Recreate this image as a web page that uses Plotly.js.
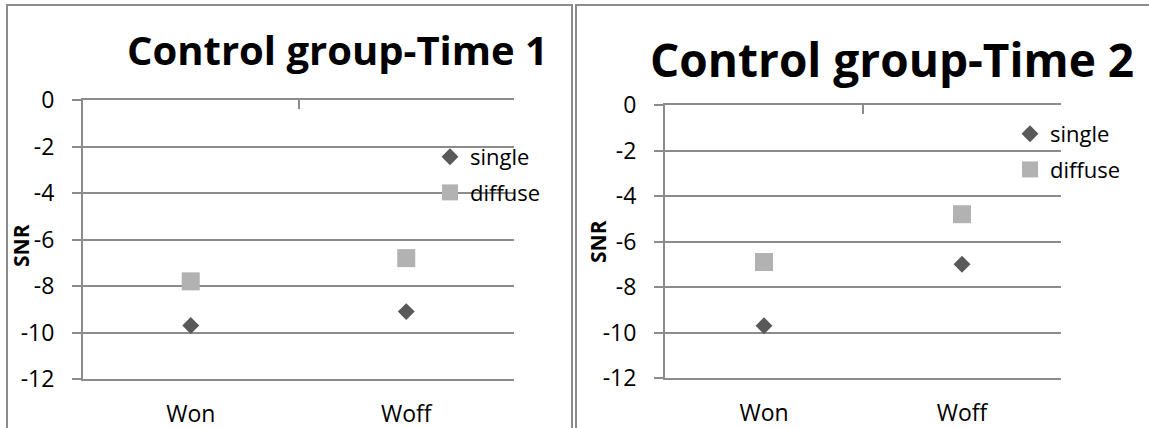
<!DOCTYPE html>
<html>
<head>
<meta charset="utf-8">
<script src="https://cdn.plot.ly/plotly-3.0.1.min.js"></script>
<style>
html,body{margin:0;padding:0;background:#fff;}
#chart{width:1149px;height:428px;}
</style>
</head>
<body>
<div id="chart"></div>
<script>
// ---- data ----
const categories = ["Won", "Woff"];
const seriesNames = ["single", "diffuse"];
const time1Single = [-9.7, -9.1];
const time1Diffuse = [-7.8, -6.8];
const time2Single = [-9.7, -7.0];
const time2Diffuse = [-6.9, -4.8];
const panelTitles = ["Control group-Time 1", "Control group-Time 2"];
const yTickVals = [0, -2, -4, -6, -8, -10, -12];
const yAxisLabel = "SNR";

const W = 1149, H = 428;
const px = x => x / W;
const py = y => 1 - y / H;

const FONT = "Open Sans, Liberation Sans, sans-serif";
const darkGray = "#595959";
const lightGray = "#b2b2b2";
const lineGray = "#8c8c8c";

function trace(name, x, y, xa, ya, sym, color, size, legend, group) {
  return {
    type: "scatter", mode: "markers", name: name, x: x, y: y,
    xaxis: xa, yaxis: ya, legend: legend, legendgroup: group,
    marker: {symbol: sym, color: color, size: size, line: {width: 0}},
    hoverinfo: "x+y"
  };
}

const data = [
  trace(seriesNames[0], categories, time1Single, "x", "y", "diamond", darkGray, 13, "legend", "a"),
  trace(seriesNames[1], categories, time1Diffuse, "x", "y", "square", lightGray, 18, "legend", "b"),
  trace(seriesNames[0], categories, time2Single, "x2", "y2", "diamond", darkGray, 13, "legend2", "a"),
  trace(seriesNames[1], categories, time2Diffuse, "x2", "y2", "square", lightGray, 18, "legend2", "b"),
  // invisible traces that carry the top (value-axis crossing) category axes
  {type: "scatter", x: categories, y: [null, null], xaxis: "x3", yaxis: "y", showlegend: false, hoverinfo: "skip"},
  {type: "scatter", x: categories, y: [null, null], xaxis: "x4", yaxis: "y2", showlegend: false, hoverinfo: "skip"}
];

function xaxisCat(domain, anchor) {
  return {
    domain: domain, anchor: anchor, type: "category", range: [-0.5, 1.5],
    showgrid: false, zeroline: false, showline: true, linecolor: lineGray, linewidth: 2,
    ticks: "", tickfont: {family: FONT, size: 23, color: "#000"},
    ticklabelstandoff: 13, fixedrange: true
  };
}
function xaxisTop(domain, overlay, anchor) {
  return {
    domain: domain, overlaying: overlay, anchor: anchor, side: "top", type: "category",
    range: [-0.5, 1.5], tickmode: "array", tickvals: [-0.5, 0.5, 1.499],
    ticks: "inside", ticklen: 9, tickcolor: lineGray, tickwidth: 2,
    showticklabels: false, showgrid: false, zeroline: false,
    showline: true, linecolor: lineGray, linewidth: 2, fixedrange: true
  };
}
function yaxisNum(domain, anchor) {
  return {
    domain: domain, anchor: anchor, range: [-12, 0], tickmode: "array",
    tickvals: yTickVals, ticktext: yTickVals.map(String),
    showgrid: true, gridcolor: lineGray, gridwidth: 2,
    zeroline: false, showline: true, linecolor: lineGray, linewidth: 2,
    ticks: "outside", ticklen: 9, tickcolor: lineGray, tickwidth: 2,
    tickfont: {family: FONT, size: 23, color: "#000"}, ticklabelstandoff: 13,
    fixedrange: true
  };
}

const legendBase = {
  xanchor: "left", yanchor: "top",
  bgcolor: "rgba(0,0,0,0)", font: {family: FONT, size: 22, color: "#000"},
  traceorder: "grouped", tracegroupgap: 4, itemwidth: 30
};

const layout = {
  width: W, height: H,
  margin: {l: 0, r: 0, t: 0, b: 0},
  paper_bgcolor: "#fff", plot_bgcolor: "rgba(0,0,0,0)",
  showlegend: true,
  xaxis: xaxisCat([px(83), px(514)], "y"),
  yaxis: yaxisNum([py(379), py(100)], "x"),
  xaxis2: xaxisCat([px(665), px(1061)], "y2"),
  yaxis2: yaxisNum([py(378), py(105)], "x2"),
  xaxis3: xaxisTop([px(83), px(514)], "x", "y"),
  xaxis4: xaxisTop([px(665), px(1061)], "x2", "y2"),
  legend: Object.assign({x: px(430), y: py(136)}, legendBase),
  legend2: Object.assign({x: px(1010), y: py(113)}, legendBase),
  annotations: [
    {text: "<b>" + panelTitles[0] + "</b>", xref: "paper", yref: "paper", x: px(337), y: py(49),
     xanchor: "center", yanchor: "middle", showarrow: false, font: {family: FONT, size: 40, color: "#000"}},
    {text: "<b>" + panelTitles[1] + "</b>", xref: "paper", yref: "paper", x: px(892), y: py(59),
     xanchor: "center", yanchor: "middle", showarrow: false, font: {family: FONT, size: 46, color: "#000"}},
    {text: "<b>" + yAxisLabel + "</b>", xref: "paper", yref: "paper", x: px(21), y: py(246),
     xanchor: "center", yanchor: "middle", textangle: -90, showarrow: false, font: {family: FONT, size: 21, color: "#000"}},
    {text: "<b>" + yAxisLabel + "</b>", xref: "paper", yref: "paper", x: px(598), y: py(242),
     xanchor: "center", yanchor: "middle", textangle: -90, showarrow: false, font: {family: FONT, size: 21, color: "#000"}}
  ],
  shapes: [
    {type: "rect", xref: "paper", yref: "paper", x0: px(7), x1: px(572), y0: py(440), y1: py(5),
     line: {color: lineGray, width: 2}, layer: "below"},
    {type: "rect", xref: "paper", yref: "paper", x0: px(576), x1: px(1160), y0: py(440), y1: py(5),
     line: {color: lineGray, width: 2}, layer: "below"}
  ]
};

Plotly.newPlot("chart", data, layout, {displayModeBar: false, staticPlot: true});
</script>
</body>
</html>
